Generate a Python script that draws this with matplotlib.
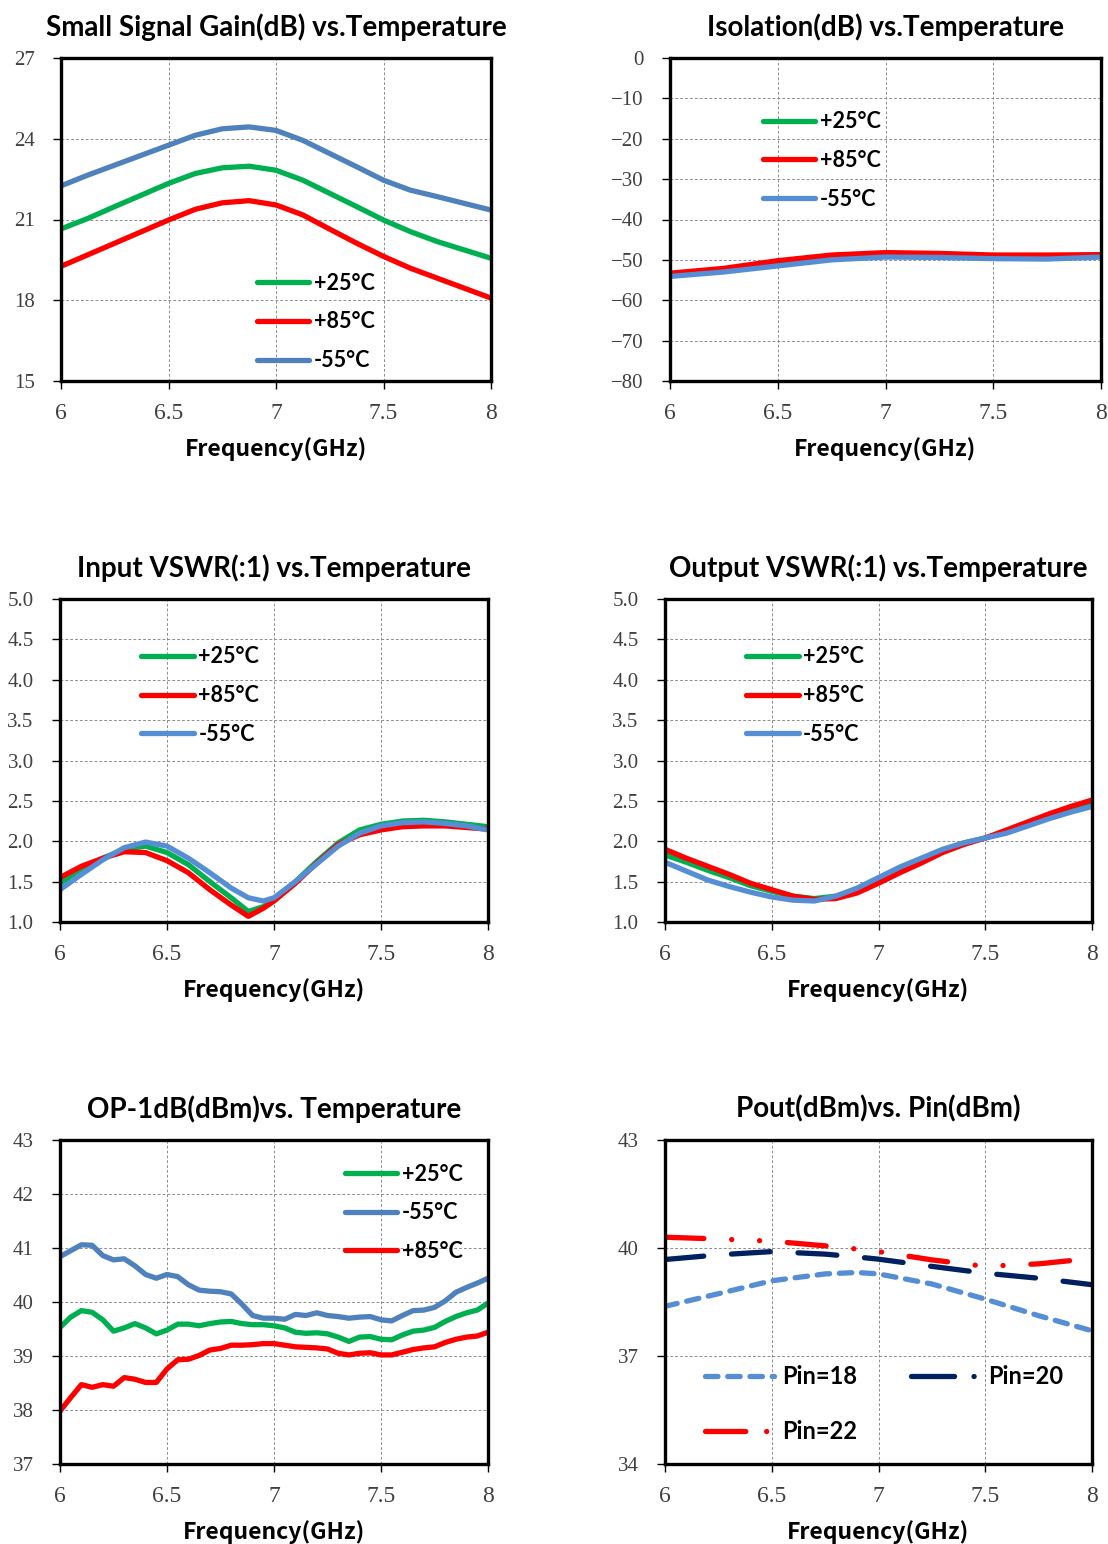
import matplotlib
matplotlib.use("Agg")
import matplotlib.pyplot as plt
from matplotlib.lines import Line2D

# ---------------- data ----------------
freq_gain = [6.0, 6.125, 6.25, 6.375, 6.5, 6.625, 6.75, 6.875, 7.0,
             7.125, 7.25, 7.375, 7.5, 7.625, 7.75, 7.875, 8.0]
gain_25 = [20.65, 21.04, 21.48, 21.91, 22.34, 22.71, 22.92, 22.98, 22.83,
           22.46, 21.97, 21.48, 20.98, 20.55, 20.18, 19.87, 19.56]
gain_85 = [19.26, 19.69, 20.12, 20.55, 20.98, 21.38, 21.62, 21.70, 21.54,
           21.17, 20.64, 20.12, 19.63, 19.19, 18.82, 18.45, 18.08]
gain_m55 = [22.25, 22.65, 23.02, 23.39, 23.76, 24.13, 24.37, 24.44, 24.31,
            23.94, 23.45, 22.96, 22.46, 22.09, 21.85, 21.60, 21.35]

freq_iso = [6.0, 6.25, 6.5, 6.75, 7.0, 7.25, 7.5, 7.75, 8.0]
iso_25 = [-53.7, -52.5, -50.8, -49.4, -48.7, -48.9, -49.2, -49.3, -49.0]
iso_85 = [-53.3, -52.1, -50.2, -48.8, -48.2, -48.4, -48.8, -48.8, -48.7]
iso_m55 = [-54.1, -53.0, -51.5, -50.0, -49.3, -49.4, -49.7, -49.8, -49.3]

freq_in = [6.0, 6.1, 6.2, 6.3, 6.4, 6.5, 6.6, 6.7, 6.8, 6.88, 6.95, 7.0,
           7.1, 7.2, 7.3, 7.4, 7.5, 7.6, 7.7, 7.8, 7.9, 8.0]
vin_25 = [1.48, 1.65, 1.79, 1.90, 1.94, 1.86, 1.71, 1.50, 1.30, 1.13, 1.19, 1.27,
          1.50, 1.75, 1.98, 2.14, 2.21, 2.25, 2.26, 2.24, 2.21, 2.18]
vin_85 = [1.55, 1.69, 1.79, 1.87, 1.86, 1.76, 1.61, 1.40, 1.21, 1.07, 1.17, 1.26,
          1.48, 1.73, 1.96, 2.08, 2.14, 2.18, 2.19, 2.19, 2.17, 2.15]
vin_m55 = [1.40, 1.59, 1.77, 1.92, 1.99, 1.94, 1.79, 1.61, 1.42, 1.30, 1.26, 1.30,
           1.50, 1.72, 1.94, 2.10, 2.19, 2.23, 2.24, 2.22, 2.19, 2.14]

freq_out = [6.0, 6.1, 6.2, 6.3, 6.4, 6.5, 6.6, 6.7, 6.8, 6.9, 7.0,
            7.1, 7.2, 7.3, 7.4, 7.5, 7.6, 7.7, 7.8, 7.9, 8.0]
vout_25 = [1.83, 1.74, 1.64, 1.55, 1.45, 1.38, 1.32, 1.29, 1.32, 1.40, 1.52,
           1.65, 1.77, 1.89, 1.98, 2.04, 2.12, 2.21, 2.31, 2.39, 2.45]
vout_85 = [1.90, 1.79, 1.69, 1.59, 1.48, 1.40, 1.32, 1.28, 1.29, 1.36, 1.48,
           1.61, 1.73, 1.86, 1.96, 2.04, 2.14, 2.24, 2.34, 2.43, 2.51]
vout_m55 = [1.74, 1.63, 1.52, 1.44, 1.37, 1.31, 1.27, 1.26, 1.32, 1.42, 1.55,
            1.68, 1.79, 1.90, 1.98, 2.04, 2.10, 2.19, 2.28, 2.36, 2.43]

freq_p1 = [6.0, 6.05, 6.1, 6.15, 6.2, 6.25, 6.3, 6.35, 6.4, 6.45, 6.5,
           6.55, 6.6, 6.65, 6.7, 6.75, 6.8, 6.85, 6.9, 6.95, 7.0,
           7.05, 7.1, 7.15, 7.2, 7.25, 7.3, 7.35, 7.4, 7.45, 7.5,
           7.55, 7.6, 7.65, 7.7, 7.75, 7.8, 7.85, 7.9, 7.95, 8.0]
p1_25 = [39.53, 39.72, 39.84, 39.81, 39.67, 39.46, 39.52, 39.60, 39.52, 39.41, 39.48,
         39.59, 39.59, 39.56, 39.60, 39.63, 39.64, 39.60, 39.58, 39.58, 39.56,
         39.52, 39.44, 39.42, 39.43, 39.41, 39.35, 39.27, 39.35, 39.36, 39.31,
         39.30, 39.39, 39.46, 39.48, 39.53, 39.64, 39.73, 39.80, 39.85, 39.98]
p1_m55 = [40.84, 40.95, 41.06, 41.05, 40.86, 40.78, 40.80, 40.67, 40.51, 40.44, 40.51,
          40.47, 40.32, 40.22, 40.20, 40.19, 40.15, 39.96, 39.75, 39.70, 39.70,
          39.68, 39.77, 39.75, 39.80, 39.75, 39.73, 39.70, 39.72, 39.73, 39.67,
          39.65, 39.75, 39.84, 39.85, 39.90, 40.02, 40.18, 40.27, 40.35, 40.44]
p1_85 = [37.98, 38.23, 38.47, 38.42, 38.47, 38.44, 38.60, 38.57, 38.51, 38.51, 38.76,
         38.93, 38.94, 39.01, 39.11, 39.14, 39.20, 39.20, 39.21, 39.23, 39.23,
         39.20, 39.17, 39.16, 39.15, 39.13, 39.05, 39.02, 39.05, 39.06, 39.02,
         39.02, 39.07, 39.12, 39.15, 39.17, 39.25, 39.31, 39.35, 39.37, 39.44]

freq_pout = [6.0, 6.25, 6.5, 6.75, 6.9, 7.0, 7.25, 7.5, 7.75, 8.0]
pout_18 = [38.38, 38.73, 39.09, 39.28, 39.32, 39.28, 39.00, 38.58, 38.12, 37.70]
pout_20 = [39.68, 39.81, 39.90, 39.83, 39.75, 39.69, 39.49, 39.30, 39.16, 38.98]
freq_pout22 = [6.0, 6.25, 6.5, 6.75, 6.9, 7.0, 7.25, 7.5, 7.75, 7.9]
pout_22 = [40.30, 40.25, 40.19, 40.06, 39.97, 39.90, 39.67, 39.49, 39.56, 39.65]

x_ticks = [6, 6.5, 7, 7.5, 8]
x_labels = ["6", "6.5", "7", "7.5", "8"]

GREEN = "#00B050"
RED = "#FF0000"
BLUE_DARK = "#4F81BD"
BLUE_LIGHT = "#558ED5"
NAVY = "#002060"

plt.rcParams["lines.scale_dashes"] = False

TITLE_FONT = dict(family="Lato", weight="bold", size=20)
XLABEL_FONT = dict(family="Noto Sans CJK SC", weight="bold", size=16.5)
TICK_FAMILY = "Liberation Serif"
LEG_FONT = dict(family="Lato", weight="bold", size=15.5)

W, H = 1108, 1544
fig = plt.figure(figsize=(W / 100, H / 100), dpi=100)


def make_ax(x0, y0, x1, y1):
    # pixel box (left, top, right, bottom) -> figure fraction
    return fig.add_axes([x0 / W, 1 - y1 / H, (x1 - x0) / W, (y1 - y0) / H])


def style(ax, title, ylim, yticks, ylabels):
    ax.set_xlim(6, 8)
    ax.set_ylim(*ylim)
    ax.set_xticks(x_ticks)
    ax.set_xticklabels(x_labels, family=TICK_FAMILY, fontsize=17, color="#404040")
    ax.set_yticks(yticks)
    ax.set_yticklabels(ylabels, family=TICK_FAMILY, fontsize=15, color="#404040")
    ax.tick_params(axis="both", direction="out", length=6, width=1, color="black")
    ax.tick_params(axis="x", pad=10)
    ax.tick_params(axis="y", pad=13)
    for s in ax.spines.values():
        s.set_linewidth(2.4)
        s.set_color("black")
    ax.grid(True, color="#8c8c8c", linestyle=(0, (2, 1.5)), linewidth=0.7)
    ax.set_axisbelow(True)
    ax.set_title(title, pad=16, **TITLE_FONT)
    ax.set_xlabel("Frequency(GHz)", labelpad=9, **XLABEL_FONT)


def legend(ax, x, y, **kw):
    opts = dict(handlelength=2.45, handletextpad=0.2, labelspacing=0.82)
    opts.update(kw)
    return ax.legend(loc="upper left", bbox_to_anchor=(x, y), frameon=False,
                     prop=LEG_FONT, borderpad=0, borderaxespad=0, **opts)


LW = 3.8
solid = dict(lw=LW, solid_capstyle="round")

# panel 1: gain
ax1 = make_ax(61, 58, 491, 381)
ax1.plot(freq_gain, gain_25, color=GREEN, label="+25°C", **solid)
ax1.plot(freq_gain, gain_85, color=RED, label="+85°C", **solid)
ax1.plot(freq_gain, gain_m55, color=BLUE_DARK, label="-55°C", **solid)
style(ax1, "Small Signal Gain(dB) vs.Temperature", (15, 27), [15, 18, 21, 24, 27],
      ["15", "18", "21", "24", "27"])
legend(ax1, 0.455, 0.335)

# panel 2: isolation
ax2 = make_ax(670, 58, 1101, 381)
ax2.plot(freq_iso, iso_25, color=GREEN, label="+25°C", **solid)
ax2.plot(freq_iso, iso_85, color=RED, label="+85°C", **solid)
ax2.plot(freq_iso, iso_m55, color=BLUE_LIGHT, label="-55°C", **solid)
iso_ticks = list(range(0, -81, -10))
style(ax2, "Isolation(dB) vs.Temperature", (-80, 0), iso_ticks,
      ["0"] + ["\u2212%d" % (-t) for t in iso_ticks[1:]])
legend(ax2, 0.215, 0.835)

vswr_ticks = [1.0, 1.5, 2.0, 2.5, 3.0, 3.5, 4.0, 4.5, 5.0]
vswr_labels = ["%.1f" % t for t in vswr_ticks]

# panel 3: input VSWR
ax3 = make_ax(60, 599, 488, 922)
ax3.plot(freq_in, vin_25, color=GREEN, label="+25°C", **solid)
ax3.plot(freq_in, vin_85, color=RED, label="+85°C", **solid)
ax3.plot(freq_in, vin_m55, color=BLUE_LIGHT, label="-55°C", **solid)
style(ax3, "Input VSWR(:1) vs.Temperature", (1, 5), vswr_ticks, vswr_labels)
legend(ax3, 0.19, 0.853)

# panel 4: output VSWR
ax4 = make_ax(665, 599, 1092, 922)
ax4.plot(freq_out, vout_25, color=GREEN, label="+25°C", **solid)
ax4.plot(freq_out, vout_85, color=RED, label="+85°C", **solid)
ax4.plot(freq_out, vout_m55, color=BLUE_LIGHT, label="-55°C", **solid)
style(ax4, "Output VSWR(:1) vs.Temperature", (1, 5), vswr_ticks, vswr_labels)
legend(ax4, 0.19, 0.853)

# panel 5: OP-1dB
ax5 = make_ax(60, 1140, 488, 1464)
ax5.plot(freq_p1, p1_25, color=GREEN, label="+25°C", **solid)
ax5.plot(freq_p1, p1_m55, color=BLUE_DARK, label="-55°C", **solid)
ax5.plot(freq_p1, p1_85, color=RED, label="+85°C", **solid)
style(ax5, "OP-1dB(dBm)vs. Temperature", (37, 43), [37, 38, 39, 40, 41, 42, 43],
      ["37", "38", "39", "40", "41", "42", "43"])
legend(ax5, 0.665, 0.927)

# panel 6: Pout vs Pin
style_18 = dict(color=BLUE_LIGHT, lw=LW, linestyle=(0, (9, 7)), dash_capstyle="round")
style_20 = dict(color=NAVY, lw=LW, dash_capstyle="round")
style_22 = dict(color=RED, lw=LW, dash_capstyle="round")
ax6 = make_ax(665, 1140, 1092, 1464)
ax6.plot(freq_pout, pout_18, **style_18)
ax6.plot(freq_pout22, pout_22, linestyle=(0, (28, 20, 0.1, 20, 0.1, 20)), **style_22)
ax6.plot(freq_pout, pout_20, linestyle=(0, (28, 20)), **style_20)
style(ax6, "Pout(dBm)vs. Pin(dBm)", (34, 43), [34, 37, 40, 43],
      ["34", "37", "40", "43"])
# legend proxies: long dash followed by a dot
handles = [Line2D([], [], **style_18),
           Line2D([], [], linestyle=(0, (29, 15, 0.1, 40)), **style_22),
           Line2D([], [], linestyle=(0, (31, 14, 0.1, 40)), **style_20)]
ax6.legend(handles, ["Pin=18", "Pin=22", "Pin=20"], loc="upper left",
           bbox_to_anchor=(0.094, 0.305), frameon=False, ncol=2,
           prop=dict(family="Lato", weight="bold", size=17),
           handlelength=2.9, handletextpad=0.35, labelspacing=1.35,
           columnspacing=2.3, borderpad=0, borderaxespad=0)

fig.savefig("out.png", dpi=100)
